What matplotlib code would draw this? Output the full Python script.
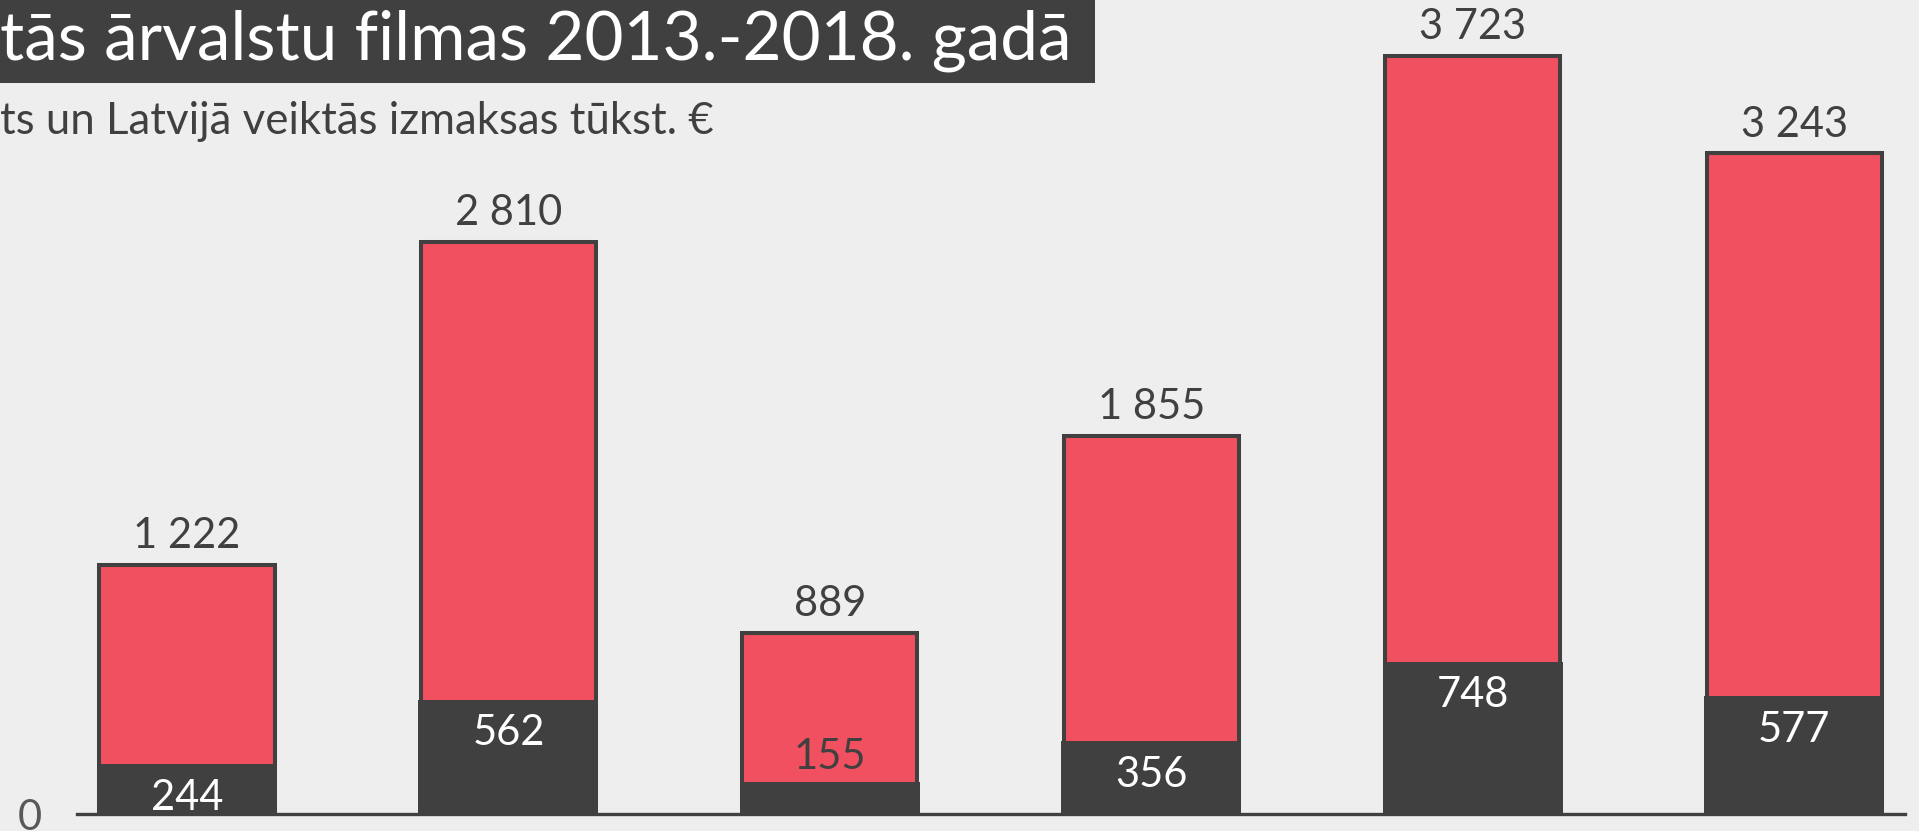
import matplotlib.pyplot as plt
from matplotlib.patches import Rectangle

# data
years = ['2013', '2014', '2015', '2016', '2017', '2018']
totals = [1222, 2810, 889, 1855, 3723, 3243]
latvia = [244, 562, 155, 356, 748, 577]

title = 'tās ārvalstu filmas 2013.-2018. gadā'
subtitle = 'ts un Latvijā veiktās izmaksas tūkst. €'

red = '#F0505F'
dark = '#404040'
bg = '#EEEEEE'

plt.rcParams['font.family'] = ['Lato', 'DejaVu Sans']

def fmt(v):
    return f'{v:,}'.replace(',', ' ')

fig = plt.figure(figsize=(19.19, 8.31), dpi=100, facecolor=bg)
ax = fig.add_axes([77 / 1919, 17 / 831, 1828 / 1919, 814 / 831])
ax.set_facecolor(bg)

x = range(len(years))
ax.bar(x, totals, width=0.545, color=red, edgecolor=dark, linewidth=2.9, zorder=2)
ax.bar(x, latvia, width=0.56, color=dark, linewidth=0, zorder=3)

ax.set_xlim(-0.342, 5.345)
ax.set_ylim(0, 3996)

for i, (t, l) in enumerate(zip(totals, latvia)):
    ax.annotate(fmt(t), (i, t), xytext=(0, 7), textcoords='offset points',
                ha='center', va='bottom', fontsize=30, color=dark, zorder=4)
    if l > 200:
        ax.annotate(fmt(l), (i, l), xytext=(0, -24), textcoords='offset points',
                    ha='center', va='center', fontsize=30, color='white', zorder=4)
    else:
        # small segment: label sits above it, on the red part
        ax.annotate(fmt(l), (i, l), xytext=(0, 18), textcoords='offset points',
                    ha='center', va='center', fontsize=30, color=dark, zorder=4)

for s in ['top', 'right', 'left']:
    ax.spines[s].set_visible(False)
ax.spines['bottom'].set_color(dark)
ax.spines['bottom'].set_linewidth(2.4)
ax.spines['bottom'].set_zorder(1)
ax.set_xticks([])
ax.set_yticks([0])
ax.tick_params(axis='y', length=0, pad=25, labelsize=30, labelcolor='#595959')

# title box
fig.patches.append(Rectangle((0, 1 - 83 / 831), 1095 / 1919, 83 / 831,
                             transform=fig.transFigure, facecolor=dark,
                             edgecolor='none', zorder=5))
fig.text(0.0, 1 - 41 / 831, title, ha='left', va='center', fontsize=48.5,
         color='white', zorder=6)
fig.text(0.0, 1 - 122 / 831, subtitle, ha='left', va='center', fontsize=31.5,
         color=dark, zorder=6)

fig.savefig('out.png', dpi=100, facecolor=bg)
